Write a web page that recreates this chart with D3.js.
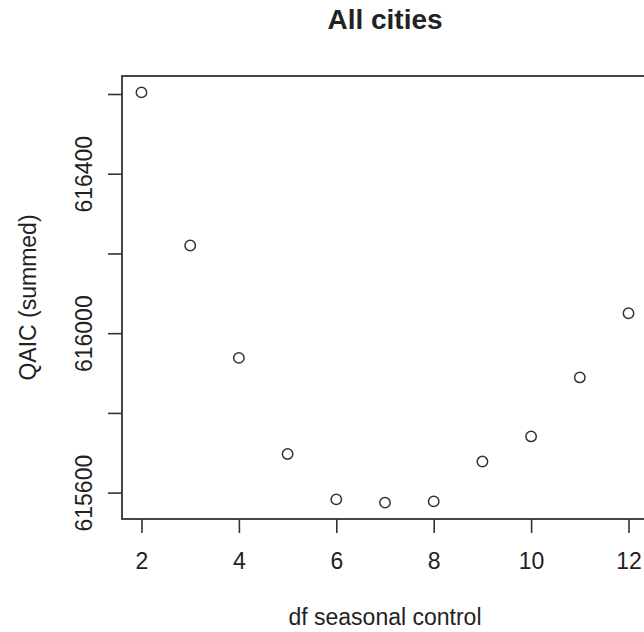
<!DOCTYPE html>
<html>
<head>
<meta charset="utf-8">
<script src="https://cdn.jsdelivr.net/npm/d3@7"></script>
<style>
  html, body { margin: 0; padding: 0; background: #fff; }
  svg { display: block; }
  text { font-family: "Liberation Sans", Arial, sans-serif; fill: #222; }
</style>
</head>
<body>
<script>
// ---- data ----
const dfSeasonal = [2, 3, 4, 5, 6, 7, 8, 9, 10, 11, 12];
const qaicSummed = [616604, 616220, 615938, 615697, 615583, 615575, 615578, 615678, 615741, 615889, 616050];
const xTicks = [2, 4, 6, 8, 10, 12];
const yTicks = [615600, 615800, 616000, 616200, 616400, 616600];
const yTickLabels = ["615600", "", "616000", "", "616400", ""];
const chartTitle = "All cities";
const xTitle = "df seasonal control";
const yTitle = "QAIC (summed)";

// ---- layout ----
const W = 644, H = 632;
const L = 122, R = 648, T = 76, B = 519;

const svg = d3.select("body").append("svg").attr("width", W).attr("height", H);

function padded(ext) {
  const d = (ext[1] - ext[0]) * 0.04;
  return [ext[0] - d, ext[1] + d];
}
const x = d3.scaleLinear().domain(padded(d3.extent(dfSeasonal))).range([L, R]);
const y = d3.scaleLinear().domain(padded(d3.extent(qaicSummed))).range([B, T]);

// x axis
const xAxis = svg.append("g").attr("transform", `translate(0,${B})`)
  .call(d3.axisBottom(x).tickValues(xTicks).tickFormat(d3.format("d")).tickSize(14).tickPadding(20));
xAxis.select(".domain").remove();
xAxis.selectAll(".tick line").attr("stroke", "#333").attr("stroke-width", 1.6);
xAxis.selectAll(".tick text").attr("font-size", 23).attr("fill", "#222")
  .style("font-family", "'Liberation Sans', Arial, sans-serif");

// y axis
const yAxis = svg.append("g").attr("transform", `translate(${L},0)`)
  .call(d3.axisLeft(y).tickValues(yTicks).tickFormat((d, i) => yTickLabels[i]).tickSize(14));
yAxis.select(".domain").remove();
yAxis.selectAll(".tick line").attr("stroke", "#333").attr("stroke-width", 1.6);
yAxis.selectAll(".tick text")
  .attr("font-size", 23).attr("fill", "#222")
  .style("font-family", "'Liberation Sans', Arial, sans-serif")
  .attr("text-anchor", "middle")
  .attr("dy", null)
  .attr("x", null)
  .attr("transform", "translate(-30,0) rotate(-90)");

// box
svg.append("rect").attr("x", L).attr("y", T).attr("width", R - L).attr("height", B - T)
  .attr("fill", "none").attr("stroke", "#333").attr("stroke-width", 1.8);

// points
svg.append("g").selectAll("circle").data(dfSeasonal).join("circle")
  .attr("cx", d => x(d))
  .attr("cy", (d, i) => y(qaicSummed[i]))
  .attr("r", 5.2)
  .attr("fill", "none").attr("stroke", "#333").attr("stroke-width", 1.5);

// titles
svg.append("text").attr("x", (L + R) / 2).attr("y", 29).attr("text-anchor", "middle")
  .attr("font-size", 28).attr("font-weight", "bold").attr("fill", "#111").text(chartTitle);
svg.append("text").attr("x", (L + R) / 2).attr("y", 625).attr("text-anchor", "middle")
  .attr("font-size", 23).text(xTitle);
svg.append("text").attr("transform", `translate(36,${(T + B) / 2}) rotate(-90)`)
  .attr("text-anchor", "middle").attr("font-size", 23).text(yTitle);
</script>
</body>
</html>
